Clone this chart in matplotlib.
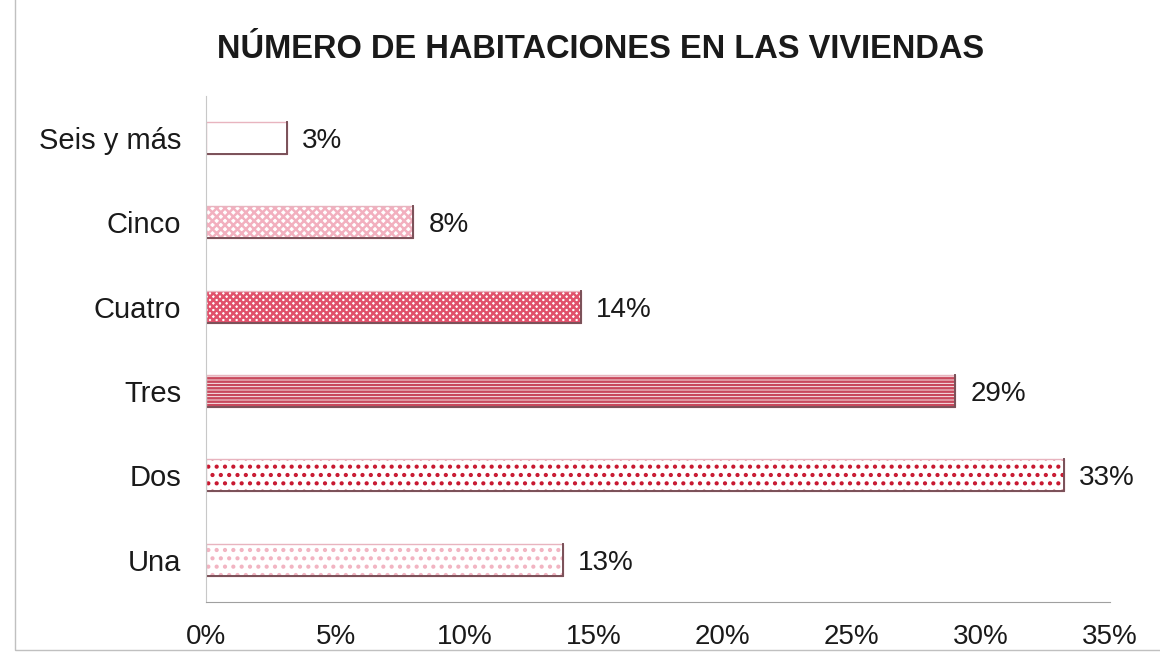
import matplotlib
matplotlib.use("Agg")
import matplotlib.pyplot as plt
from matplotlib.patches import Rectangle

categories = ["Una", "Dos", "Tres", "Cuatro", "Cinco", "Seis y más"]
values = [13.8, 33.2, 29.0, 14.5, 8.0, 3.1]
value_labels = ["13%", "33%", "29%", "14%", "8%", "3%"]
xticks = [0, 5, 10, 15, 20, 25, 30, 35]
xtick_labels = ["0%", "5%", "10%", "15%", "20%", "25%", "30%", "35%"]
title = "NÚMERO DE HABITACIONES EN LAS VIVIENDAS"

hatches = ["..", "..", "-----", "xxxxx", "xxxx", ""]
hatch_colors = ["#f2b4c2", "#c81830", "#c8485c", "#e0506a", "#f2b0bf", "#e8a0b0"]

plt.rcParams['font.family'] = ['Liberation Sans', 'DejaVu Sans']
plt.rcParams['hatch.linewidth'] = 1.8

fig = plt.figure(figsize=(11.6, 6.57), dpi=100)
ax = fig.add_axes([0.178, 0.084, 0.779, 0.770])

pos = list(range(len(categories)))
bh = 0.38
for i, (v, h, c) in enumerate(zip(values, hatches, hatch_colors)):
    ax.barh(i, v, height=bh, color="white", edgecolor=c, hatch=h, linewidth=0)
    ax.barh(i, v, height=bh, color="none", edgecolor="#e8b4bf", linewidth=1.0)
    ax.plot([0, v, v], [i - bh / 2, i - bh / 2, i + bh / 2], color="#7a5058", linewidth=1.4,
            solid_joinstyle="miter")
    ax.text(v + 0.6, i, value_labels[i], va="center_baseline", ha="left", fontsize=20, color="#1a1a1a")

ax.set_xlim(0, 35)
ax.set_ylim(-0.5, 5.5)
ax.set_yticks(pos)
ax.set_yticklabels(categories, fontsize=21, color="#1a1a1a")
ax.set_xticks(xticks)
ax.set_xticklabels(xtick_labels, fontsize=20, color="#1a1a1a")
ax.tick_params(axis="y", length=0, pad=18)
ax.tick_params(axis="x", length=0, pad=16)
for s in ["top", "right"]:
    ax.spines[s].set_visible(False)
ax.spines["left"].set_color("#c8c8c8")
ax.spines["bottom"].set_color("#a0a0a0")

fig.text(0.518, 0.925, title, ha="center", va="center", fontsize=23.5, fontweight="bold", color="#1a1a1a")

fig.patches.append(Rectangle((15 / 1160, 7 / 657), 1.0, 1.0, transform=fig.transFigure,
                             fill=False, edgecolor="#c0c0c0", linewidth=1.0))

fig.savefig("out.png", dpi=100, facecolor="white")
